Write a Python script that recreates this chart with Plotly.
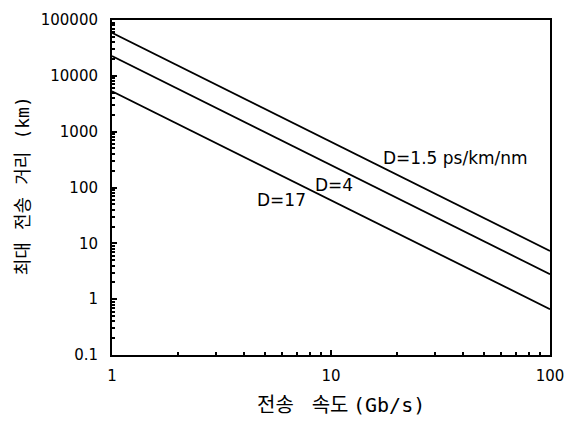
import plotly.graph_objects as go
import numpy as np

# Data
bitrate = [1, 100]                       # Gb/s
dist_D1_5 = [59000, 7.3]                 # km, D=1.5 ps/km/nm
dist_D4 = [22600, 2.8]                   # km, D=4
dist_D17 = [5300, 0.66]                  # km, D=17

x_ticks = [1, 10, 100]
x_tick_text = ["1", "10", "100"]
y_ticks = [0.1, 1, 10, 100, 1000, 10000, 100000]
y_tick_text = ["0.1", "1", "10", "100", "1000", "10000", "100000"]

label_text = ["D=1.5 ps/km/nm", "D=4", "D=17"]
label_x = [17.0, 8.27, 4.5]
label_y = [333, 113, 59]

fig = go.Figure()
for ys in (dist_D1_5, dist_D4, dist_D17):
    fig.add_trace(go.Scatter(x=bitrate, y=ys, mode="lines",
                             line=dict(color="black", width=1.8),
                             showlegend=False, hoverinfo="skip"))

for txt, xv, yv in zip(label_text, label_x, label_y):
    fig.add_annotation(x=np.log10(xv), y=np.log10(yv), text=txt, showarrow=False,
                       xanchor="left", yanchor="middle",
                       font=dict(family="DejaVu Sans", size=17, color="black"))

minor_x = [m * 10 ** e for e in range(0, 2) for m in range(2, 10)]
minor_y = [m * 10 ** e for e in range(-1, 5) for m in range(2, 10)]

tickfont = dict(family="DejaVu Sans", size=15, color="black")
mono = "<span style='font-family:DejaVu Sans Mono'>{}</span>"

fig.update_xaxes(type="log", range=[0, 2], tickvals=x_ticks, ticktext=x_tick_text,
                 ticks="inside", ticklen=5, tickwidth=1.5, tickcolor="black",
                 minor=dict(tickvals=minor_x, ticks="inside", ticklen=3, tickcolor="black"),
                 showline=True, linecolor="black", linewidth=2, mirror=True,
                 showgrid=False, zeroline=False, ticklabelstandoff=6,
                 tickfont=tickfont)
fig.update_yaxes(type="log", range=[-1, 5], tickvals=y_ticks, ticktext=y_tick_text,
                 ticks="inside", ticklen=5, tickwidth=1.5, tickcolor="black",
                 minor=dict(tickvals=minor_y, ticks="inside", ticklen=3, tickcolor="black"),
                 showline=True, linecolor="black", linewidth=2, mirror=True,
                 showgrid=False, zeroline=False, ticklabelstandoff=9,
                 tickfont=tickfont)

# axis titles
fig.add_annotation(xref="paper", yref="paper", x=0.523, y=-0.145,
                   text="전송\u00a0\u00a0\u00a0\u00a0속도 " + mono.format("(Gb/s)"),
                   showarrow=False, xanchor="center", yanchor="middle",
                   font=dict(family="Noto Sans CJK KR", size=20, color="black"))
fig.add_annotation(xref="paper", yref="paper", x=-0.206, y=0.506, textangle=-90,
                   text="최대\u00a0\u00a0\u00a0전송\u00a0\u00a0\u00a0거리\u00a0\u00a0\u00a0" + mono.format("(km)"),
                   showarrow=False, xanchor="center", yanchor="middle",
                   font=dict(family="Noto Sans CJK KR", size=18, color="black"))

fig.update_layout(width=575, height=421, margin=dict(l=112, r=16, t=11, b=66),
                  paper_bgcolor="white", plot_bgcolor="white")

fig.write_html("out.html")
